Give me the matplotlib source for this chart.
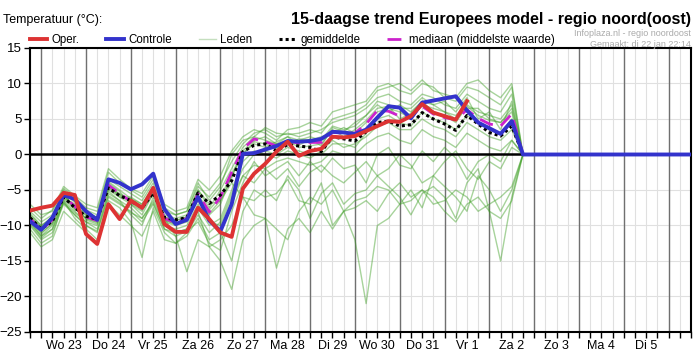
import numpy as np
import matplotlib.pyplot as plt
from matplotlib.lines import Line2D

plt.rcParams['font.family'] = ['Liberation Sans', 'DejaVu Sans']

# dag-labels (op 12:00 van elke dag), tijdstap = 6 uur, start di 22 jan 18:00
dagen = ['Wo 23', 'Do 24', 'Vr 25', 'Za 26', 'Zo 27', 'Ma 28', 'Di 29',
         'Wo 30', 'Do 31', 'Vr 1', 'Za 2', 'Zo 3', 'Ma 4', 'Di 5']

oper = [-7.9, -7.5, -7.2, -5.4, -5.7, -11.2, -12.6, -7.0, -9.1, -6.5, -7.5, -4.7,
        -9.8, -10.9, -10.9, -7.5, -9.1, -11.0, -11.6, -4.8, -2.7, -1.3, 0.4, 1.8,
        -0.2, 0.5, 0.8, 2.5, 2.4, 2.6, 3.3, 4.0, 4.7, 4.6, 5.4, 7.1, 5.9, 5.4, 4.9, 7.5]

controle = [-9.4, -10.6, -8.9, -5.7, -6.3, -8.0, -9.2, -3.5, -4.0, -4.9, -4.2, -2.7,
            -7.7, -9.8, -9.2, -6.0, -9.3, -10.8, -7.0, 0.1, 0.2, 0.7, 1.2, 1.9,
            1.8, 1.9, 2.2, 3.2, 3.1, 2.9, 3.5, 5.2, 6.8, 6.6, 5.1, 7.3, 7.6, 7.9,
            8.2, 6.2, 4.5, 3.7, 2.9, 4.7, 0.0]
controle_rest = [0.0] * 15

gemiddelde = [-8.9, -10.5, -9.4, -6.0, -7.5, -8.7, -9.1, -4.7, -5.8, -6.5, -7.5, -5.4,
              -8.9, -9.2, -8.9, -5.4, -6.9, -5.7, -3.7, 0.4, 1.3, 1.5, 0.5, 1.4,
              1.2, 1.0, 0.4, 2.5, 2.2, 1.9, 3.2, 4.5, 4.7, 4.0, 4.2, 5.9, 5.0, 4.3,
              3.4, 5.5, 4.3, 3.1, 2.6, 4.0, 0.0]

mediaan = [-9.0, -10.7, -9.2, -5.9, -7.3, -8.8, -9.3, -4.3, -5.5, -6.6, -7.6, -5.2,
           -9.0, -9.6, -9.0, -5.5, -8.1, -6.0, -2.5, 0.8, 2.2, 1.8, 1.2, 1.9,
           1.6, 1.7, 1.7, 3.1, 3.0, 3.0, 4.3, 6.2, 6.1, 5.4, 5.4, 6.8, 5.7, 5.2,
           4.9, 6.3, 5.1, 4.3, 4.0, 5.7, 0.0]

leden = [
    [-8.0, -9.5, -8.5, -5.0, -6.5, -7.8, -8.5, -3.5, -4.5, -5.5, -6.5, -4.0, -8.0, -8.5, -8.0,
     -4.5, -6.0, -4.0, -1.0, 1.5, 3.0, 3.5, 2.5, 3.0, 2.5, 3.0, 3.5, 4.5, 5.0, 5.5, 6.5, 8.0,
     8.5, 7.5, 7.0, 8.5, 8.0, 7.0, 6.5, 8.5, 7.5, 6.5, 6.0, 8.5, 0.0],
    [-7.5, -9.0, -7.8, -4.5, -5.8, -7.0, -7.5, -2.0, -3.5, -4.8, -5.5, -3.0, -7.0, -8.0, -7.5,
     -3.5, -5.0, -3.0, 0.5, 2.5, 3.5, 3.0, 2.0, 3.5, 3.8, 4.5, 4.0, 6.0, 6.5, 7.0, 7.5, 9.5,
     10.0, 9.0, 8.5, 10.0, 9.5, 8.0, 7.5, 9.5, 9.0, 8.0, 7.0, 9.5, 0.0],
    [-9.2, -11.0, -9.8, -6.2, -7.0, -9.2, -9.8, -4.0, -5.2, -7.0, -8.0, -5.5, -9.5, -10.0, -9.5,
     -6.0, -8.5, -7.0, -3.0, 0.0, 1.8, 1.5, 0.8, 2.0, 1.0, 1.2, 1.5, 3.5, 2.5, 3.5, 4.8, 6.5,
     6.8, 5.0, 5.8, 7.5, 6.0, 5.5, 4.5, 6.8, 5.5, 4.8, 4.5, 6.5, 0.0],
    [-10.0, -12.0, -11.0, -7.0, -8.5, -10.0, -11.0, -6.0, -7.0, -8.0, -9.5, -7.0, -10.5, -11.0, -10.5,
     -7.5, -10.0, -9.0, -5.0, -1.0, 0.5, 0.0, -0.5, 0.5, 0.0, -0.5, 0.5, 2.0, 1.0, 1.5, 2.5, 4.0,
     4.5, 3.5, 3.5, 5.0, 4.0, 3.5, 2.5, 4.5, 3.5, 2.5, 2.0, 3.5, 0.0],
    [-11.0, -13.0, -12.0, -8.0, -9.5, -11.0, -12.5, -7.0, -8.5, -10.0, -11.5, -8.0, -12.0, -12.5, -11.5,
     -9.0, -12.0, -11.0, -7.0, -3.0, -1.5, -2.0, -1.0, -0.5, -1.0, -1.5, -1.0, 0.5, 0.0, 0.0, 1.5, 2.5,
     3.0, 2.0, 1.5, 3.5, 2.5, 2.0, 1.0, 3.0, 2.0, 1.0, 0.5, 2.0, 0.0],
    [-8.5, -10.0, -9.0, -5.5, -7.8, -8.0, -9.0, -5.0, -6.0, -6.0, -7.0, -4.5, -8.5, -9.0, -8.5,
     -5.0, -7.5, -5.0, -2.0, 1.0, 2.5, 2.0, 1.5, 2.5, 2.0, 2.5, 2.0, 4.0, 3.5, 4.0, 5.5, 7.5,
     7.0, 6.5, 6.5, 8.0, 7.0, 6.0, 5.5, 7.0, 6.0, 5.5, 5.0, 7.0, 0.0],
    [-9.5, -11.5, -10.5, -6.5, -8.0, -9.5, -10.5, -5.5, -6.5, -8.5, -10.0, -6.0, -10.0, -11.0, -10.5,
     -8.0, -13.0, -15.0, -19.0, -12.0, -10.0, -9.0, -10.5, -12.0, -8.0, -6.0, -7.0, -5.0, -8.0, -6.5,
     -6.0, -4.5, -5.0, -7.0, -6.5, -5.0, -6.0, -8.0, -9.5, -7.0, -6.0, -8.0, -9.0, -6.5, 0.0],
    [-8.8, -10.2, -9.5, -6.0, -7.5, -9.0, -9.5, -4.5, -6.0, -7.0, -8.5, -5.5, -9.0, -11.5, -16.5,
     -12.0, -13.0, -12.0, -10.0, -6.0, -8.5, -9.0, -16.0, -10.5, -9.0, -11.0, -8.0, -10.5, -8.0, -7.5,
     -6.5, -8.0, -5.5, -4.0, -6.0, -5.0, -7.0, -6.5, -5.0, -6.0, -8.0, -7.0, -6.0, -4.5, 0.0],
    [-9.0, -10.8, -9.0, -5.8, -7.2, -8.5, -9.2, -4.8, -5.5, -6.5, -7.5, -5.0, -9.2, -9.8, -9.0,
     -6.5, -9.0, -11.0, -15.0, -8.0, -5.0, -6.0, -5.5, -3.5, -6.5, -7.0, -4.0, -10.0, -8.0, -12.0,
     -21.0, -10.0, -9.0, -7.0, -5.0, -7.5, -3.0, -4.5, -6.0, -8.0, -3.0, -5.0, -8.0, -5.0, 0.0],
    [-8.3, -10.0, -8.8, -5.2, -6.8, -8.3, -8.8, -3.8, -5.0, -6.2, -7.0, -4.8, -8.8, -9.3, -8.8,
     -5.0, -7.0, -6.5, -4.0, -6.0, -6.5, -5.0, -6.5, -3.0, -5.0, -9.0, -5.5, -4.0, -7.0, -5.5,
     -5.0, -3.0, -4.5, -6.0, -8.5, -5.5, -4.5, -6.0, -9.0, -4.0, -2.0, -8.0, -15.0, -6.0, 0.0],
    [-9.6, -11.5, -10.0, -6.8, -8.2, -9.5, -10.0, -5.2, -6.5, -7.5, -9.0, -6.5, -10.0, -10.5, -10.0,
     -7.0, -9.5, -10.0, -6.0, -3.0, -4.0, -2.0, -3.5, -2.0, -4.5, -2.5, -1.5, -3.0, -4.0, -2.5,
     -1.0, -3.0, -2.0, 0.0, -1.5, -4.0, -3.0, -1.0, 0.5, -2.0, -3.5, -1.0, -2.0, 1.0, 0.0],
    [-7.0, -8.5, -8.0, -4.8, -6.0, -7.5, -8.0, -2.5, -4.0, -5.0, -6.0, -3.5, -7.5, -8.5, -8.0,
     -4.0, -6.5, -4.5, 0.0, 2.0, 2.5, 3.8, 3.0, 2.8, 3.0, 3.5, 3.0, 5.0, 5.5, 6.0, 7.0, 9.0,
     9.5, 10.0, 9.0, 10.5, 9.0, 8.5, 8.0, 10.0, 10.5, 9.0, 8.0, 10.0, 0.0],
    [-10.5, -12.5, -11.5, -6.5, -9.0, -10.5, -12.0, -6.5, -7.5, -9.5, -14.5, -7.5, -11.0, -12.5, -11.0,
     -8.5, -11.0, -9.5, -5.5, -2.0, 0.0, 0.5, 0.0, 1.0, 0.5, 0.0, 0.0, 1.5, 1.5, 1.0, 3.0, 5.0,
     5.5, 4.5, 4.0, 6.0, 5.0, 4.5, 3.5, 5.5, 4.5, 3.5, 3.0, 5.0, 0.0],
    [-8.7, -10.3, -9.3, -5.7, -7.4, -8.6, -9.0, -4.5, -5.8, -6.3, -7.3, -5.3, -8.8, -9.3, -8.8,
     -5.8, -7.8, -6.0, -2.8, 0.5, 2.0, 2.5, 1.5, 1.5, 2.2, 2.0, 2.5, 3.0, 3.8, 3.0, 4.5, 6.0,
     6.5, 6.0, 5.0, 7.0, 6.5, 6.0, 5.0, 6.5, 6.5, 5.0, 4.5, 6.0, 0.0],
    [-9.3, -11.2, -9.6, -6.3, -7.6, -9.0, -9.6, -4.2, -5.6, -6.8, -7.8, -5.4, -9.3, -9.8, -9.3,
     -6.2, -8.3, -6.5, -3.2, 0.2, 1.5, 1.0, 1.8, 2.5, 1.3, 2.2, 1.2, 3.8, 3.2, 4.5, 5.5, 7.0,
     6.0, 7.0, 6.0, 7.5, 7.0, 7.5, 6.0, 8.0, 5.0, 6.0, 3.5, 7.5, 0.0],
    [-9.8, -11.8, -10.5, -6.8, -8.5, -10.0, -10.8, -5.8, -6.8, -8.2, -9.0, -6.8, -10.5, -11.5, -10.8,
     -9.5, -12.5, -13.5, -8.0, -4.0, -1.0, -3.0, -2.0, -1.0, -3.0, -1.0, -2.5, -0.5, -2.0, -1.5,
     -4.0, 0.0, 1.0, -1.5, -2.0, 0.5, -1.0, 1.0, -0.5, -3.5, -1.0, 0.0, -1.0, 2.0, 0.0],
]

n_stappen = 59  # 6-uurs stappen op de as

fig = plt.figure(figsize=(6.99, 3.55), dpi=100)
ax = fig.add_axes([0.0429, 0.0648, 0.9457, 0.80])

# raster
for k in range(n_stappen + 1):
    ax.axvline(k, color='#e0e0e0', lw=0.8, zorder=0)
for k in range(1, n_stappen + 1, 4):
    ax.axvline(k, color='#707070', lw=1.0, zorder=0.5)
for y in range(-25, 16, 5):
    ax.axhline(y, color='#e0e0e0', lw=0.8, zorder=0)

for lid in leden:
    ax.plot(np.arange(len(lid)), lid, color='#3c9e22', alpha=0.45, lw=1.0, zorder=1)

ax.axhline(0, color='black', lw=1.8, zorder=3)

ax.plot(np.arange(len(mediaan)), mediaan, color='#cc22cc', lw=2, ls=(0, (5, 3)), zorder=4)
ax.plot(np.arange(len(gemiddelde)), gemiddelde, color='black', lw=2.2, ls=(0, (1, 1)), zorder=5)
x_c = np.arange(len(controle) + len(controle_rest))
ax.plot(x_c, controle + controle_rest, color='#3333cc', lw=2.8, zorder=6)
ax.plot(np.arange(len(oper)), oper, color='#dd3333', lw=2.8, zorder=7)

ax.set_xlim(0, n_stappen)
ax.set_ylim(-25, 15)
ax.set_yticks(range(-25, 16, 5))
ax.set_xticks([3 + 4 * i for i in range(len(dagen))])
ax.set_xticklabels(dagen)
ax.set_xticks(range(n_stappen + 1), minor=True)
ax.tick_params(axis='x', which='both', length=4, width=1, color='black', labelsize=9, pad=2)
ax.tick_params(axis='y', length=4, width=1, labelsize=9.5, pad=2)
for s in ax.spines.values():
    s.set_linewidth(1.5)
    s.set_color('black')

fig.text(0.004, 0.945, 'Temperatuur (°C):', fontsize=9, va='center')
fig.text(0.988, 0.945, '15-daagse trend Europees model - regio noord(oost)',
         fontsize=11.5, fontweight='bold', ha='right', va='center')
fig.text(0.988, 0.905, 'Infoplaza.nl - regio noordoost', fontsize=6.5, color='#aaaaaa',
         ha='right', va='center')
fig.text(0.988, 0.875, 'Gemaakt: di 22 jan 22:14', fontsize=6.5, color='#aaaaaa',
         ha='right', va='center')

handles = [Line2D([], [], color='#dd3333', lw=2.8),
           Line2D([], [], color='#3333cc', lw=2.8),
           Line2D([], [], color='#c5dfbf', lw=1),
           Line2D([], [], color='black', lw=2.2, ls=(0, (1, 1))),
           Line2D([], [], color='#cc22cc', lw=2, ls=(0, (5, 3)))]
labels = ['Oper.', 'Controle', 'Leden', 'gemiddelde', 'mediaan (middelste waarde)']
fig.legend(handles, labels, loc='center left', bbox_to_anchor=(0.043, 0.887), ncol=5,
           frameon=False, fontsize=8.3, handlelength=1.5, handletextpad=0.4,
           columnspacing=2.3, borderaxespad=0, borderpad=0)

fig.savefig('out.png', dpi=100)
